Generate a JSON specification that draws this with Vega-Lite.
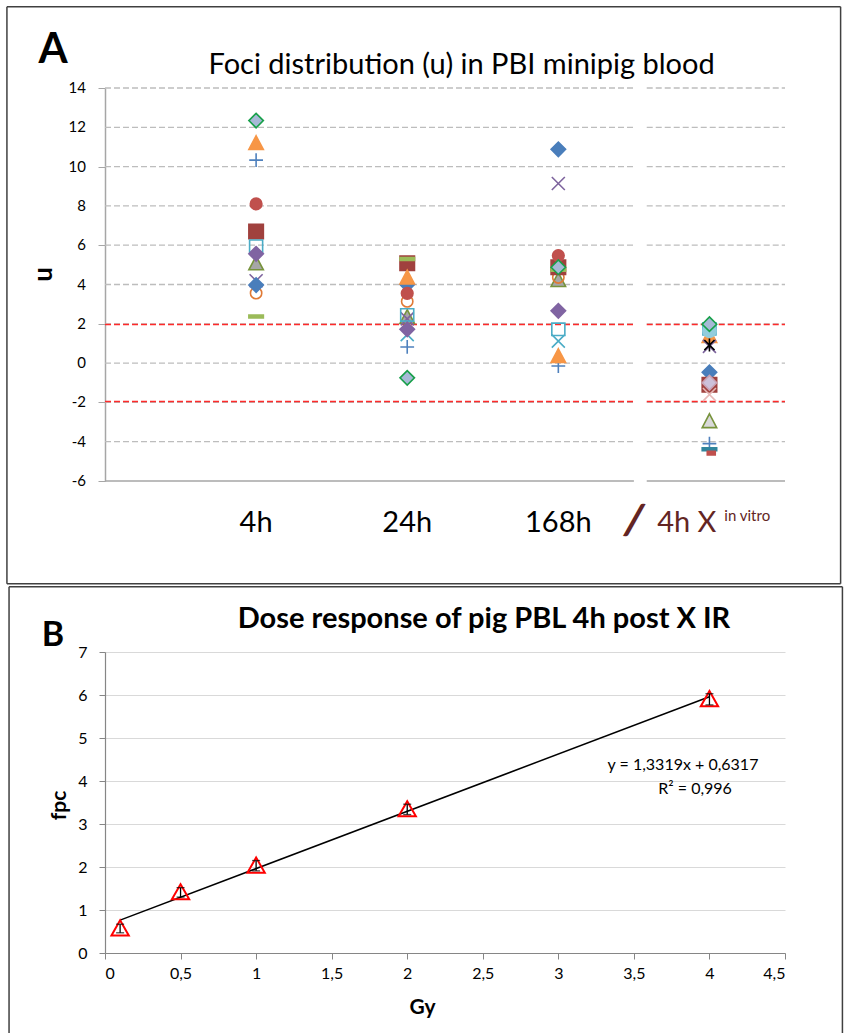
{
  "$schema": "https://vega.github.io/schema/vega-lite/v6.json",
  "padding": {"left": 6, "top": 5, "right": 0, "bottom": 0},
  "spacing": 0,
  "config": {
    "font": "Lato",
    "view": {"stroke": null},
    "axis": {"labelFont": "Lato", "titleFont": "Lato", "labelColor": "#000000", "titleColor": "#000000", "labelOverlap": false}
  },
  "datasets": {
    "one": [{"d": 1}],
    "ptsA": [
      {"t": 1, "u": 5.08, "s": "gt"}, {"t": 1, "u": 3.56, "s": "oc"}, {"t": 1, "u": 4.19, "s": "px"},
      {"t": 1, "u": 3.97, "s": "bd"}, {"t": 1, "u": 6.7, "s": "rs"}, {"t": 1, "u": 2.37, "s": "gd"},
      {"t": 1, "u": 5.95, "s": "cs"}, {"t": 1, "u": 5.56, "s": "pd"}, {"t": 1, "u": 10.33, "s": "bp"},
      {"t": 1, "u": 8.1, "s": "rc"}, {"t": 1, "u": 11.2, "s": "ot"}, {"t": 1, "u": 12.34, "s": "td"},
      {"t": 2, "u": 2.35, "s": "gt"}, {"t": 2, "u": 3.14, "s": "oc"}, {"t": 2, "u": 1.45, "s": "tx"},
      {"t": 2, "u": 2.25, "s": "px"}, {"t": 2, "u": 4.0, "s": "bd"}, {"t": 2, "u": 5.08, "s": "rs"},
      {"t": 2, "u": 5.3, "s": "gd"}, {"t": 2, "u": 2.45, "s": "cs"}, {"t": 2, "u": 1.72, "s": "pd"},
      {"t": 2, "u": 0.82, "s": "bp"}, {"t": 2, "u": 3.55, "s": "rc"}, {"t": 2, "u": 4.36, "s": "ot"},
      {"t": 2, "u": -0.75, "s": "td"},
      {"t": 3, "u": 4.23, "s": "gt"}, {"t": 3, "u": 4.36, "s": "oc"}, {"t": 3, "u": 1.12, "s": "tx"},
      {"t": 3, "u": 9.14, "s": "px"}, {"t": 3, "u": 10.88, "s": "bd"}, {"t": 3, "u": 4.88, "s": "rs"},
      {"t": 3, "u": 4.75, "s": "gd"}, {"t": 3, "u": 1.72, "s": "cs"}, {"t": 3, "u": 2.66, "s": "pd"},
      {"t": 3, "u": -0.15, "s": "bp"}, {"t": 3, "u": 5.47, "s": "rc"}, {"t": 3, "u": 0.36, "s": "ot"},
      {"t": 3, "u": 4.88, "s": "td"},
      {"t": 4, "u": 1.38, "s": "ot"}, {"t": 4, "u": 1.74, "s": "cs"}, {"t": 4, "u": 1.64, "s": "lc"},
      {"t": 4, "u": 1.98, "s": "td"}, {"t": 4, "u": 0.85, "s": "px"}, {"t": 4, "u": 0.92, "s": "ka"},
      {"t": 4, "u": -0.47, "s": "bd"}, {"t": 4, "u": -1.1, "s": "rs"}, {"t": 4, "u": -1.0, "s": "ld"},
      {"t": 4, "u": -1.6, "s": "pk"}, {"t": 4, "u": -2.95, "s": "lt"}, {"t": 4, "u": -4.1, "s": "bp"},
      {"t": 4, "u": -4.38, "s": "tdash"}, {"t": 4, "u": -4.56, "s": "rdash"}
    ],
    "gridA": [{"g": -4}, {"g": -2}, {"g": 0}, {"g": 2}, {"g": 4}, {"g": 6}, {"g": 8}, {"g": 10}, {"g": 12}, {"g": 14}],
    "tickA": [{"g": -6, "lab": "-6"}, {"g": -4, "lab": "-4"}, {"g": -2, "lab": "-2"}, {"g": 0, "lab": "0"}, {"g": 2, "lab": "2"}, {"g": 4, "lab": "4"},
              {"g": 6, "lab": "6"}, {"g": 8, "lab": "8"}, {"g": 10, "lab": "10"}, {"g": 12, "lab": "12"}, {"g": 14, "lab": "14"}],
    "redA": [{"g": 1.96}, {"g": -1.96}],
    "catA": [{"t": 1, "lab": "4h"}, {"t": 2, "lab": "24h"}, {"t": 3, "lab": "168h"}],
    "ptsB": [
      {"gy": 0.1, "fpc": 0.57, "lo": 0.47, "hi": 0.67},
      {"gy": 0.5, "fpc": 1.41, "lo": 1.3, "hi": 1.52},
      {"gy": 1, "fpc": 2.03, "lo": 1.91, "hi": 2.15},
      {"gy": 2, "fpc": 3.34, "lo": 3.22, "hi": 3.46},
      {"gy": 4, "fpc": 5.9, "lo": 5.77, "hi": 6.03}
    ],
    "fitB": [{"gy": 0.1, "fpc": 0.7649}, {"gy": 4, "fpc": 5.9593}]
  },
  "vconcat": [
    {
      "width": 680,
      "height": 393,
      "data": {"name": "one"},
      "layer": [
        {"mark": {"type": "rule", "color": "#404040", "strokeWidth": 1.5},
         "encoding": {"x": {"datum": -0.649, "type": "quantitative", "axis": null}, "x2": {"datum": 4.868}, "y": {"datum": 18.14, "type": "quantitative"}}},
        {"mark": {"type": "rule", "color": "#404040", "strokeWidth": 1.5},
         "encoding": {"x": {"datum": -0.649, "type": "quantitative", "axis": null}, "x2": {"datum": 4.868}, "y": {"datum": -11.23, "type": "quantitative"}}},
        {"mark": {"type": "rule", "color": "#404040", "strokeWidth": 1.5},
         "encoding": {"x": {"datum": -0.649, "type": "quantitative", "axis": null}, "y": {"datum": 18.14, "type": "quantitative"}, "y2": {"datum": -11.23}}},
        {"mark": {"type": "rule", "color": "#404040", "strokeWidth": 1.5},
         "encoding": {"x": {"datum": 4.868, "type": "quantitative", "axis": null}, "y": {"datum": 18.14, "type": "quantitative"}, "y2": {"datum": -11.23}}},
        {"data": {"name": "gridA"}, "mark": {"type": "rule", "color": "#BDBDBD", "strokeWidth": 1.3, "strokeDash": [6, 3]},
         "encoding": {"x": {"datum": 0, "type": "quantitative", "axis": null}, "x2": {"datum": 3.5}, "y": {"field": "g", "type": "quantitative"}}},
        {"data": {"name": "gridA"}, "mark": {"type": "rule", "color": "#BDBDBD", "strokeWidth": 1.3, "strokeDash": [6, 3]},
         "encoding": {"x": {"datum": 3.585, "type": "quantitative", "axis": null}, "x2": {"datum": 4.5}, "y": {"field": "g", "type": "quantitative"}}},
        {"data": {"name": "redA"}, "mark": {"type": "rule", "color": "#FF2A2A", "strokeWidth": 1.5, "strokeDash": [6, 3]},
         "encoding": {"x": {"datum": 0, "type": "quantitative", "axis": null}, "x2": {"datum": 3.5}, "y": {"field": "g", "type": "quantitative"}}},
        {"data": {"name": "redA"}, "mark": {"type": "rule", "color": "#FF2A2A", "strokeWidth": 1.5, "strokeDash": [6, 3]},
         "encoding": {"x": {"datum": 3.585, "type": "quantitative", "axis": null}, "x2": {"datum": 4.5}, "y": {"field": "g", "type": "quantitative"}}},
        {"mark": {"type": "rule", "color": "#A6A6A6", "strokeWidth": 1.5},
         "encoding": {"x": {"datum": 0, "type": "quantitative", "axis": null}, "x2": {"datum": 3.5}, "y": {"datum": -6, "type": "quantitative"}}},
        {"mark": {"type": "rule", "color": "#A6A6A6", "strokeWidth": 1.5},
         "encoding": {"x": {"datum": 3.585, "type": "quantitative", "axis": null}, "x2": {"datum": 4.5}, "y": {"datum": -6, "type": "quantitative"}}},
        {"data": {"name": "tickA"}, "mark": {"type": "text", "fontSize": 15, "font": "Lato", "color": "#000000", "align": "right", "baseline": "middle"},
         "encoding": {"x": {"datum": -0.1258, "type": "quantitative", "axis": null}, "y": {"field": "g", "type": "quantitative"}, "text": {"field": "lab"}}},
        {
          "data": {"name": "ptsA"},
          "mark": {"type": "point", "size": 210, "strokeWidth": 1.6, "opacity": 1},
          "encoding": {
            "x": {"field": "t", "type": "quantitative", "scale": {"domain": [0, 4.5], "nice": false, "zero": false}, "axis": null},
            "y": {"field": "u", "type": "quantitative", "scale": {"domain": [-6, 14], "nice": false, "zero": false},
                  "axis": {"values": [-6, -4, -2, 0, 2, 4, 6, 8, 10, 12, 14], "labels": false, "grid": false,
                           "tickSize": 7, "tickColor": "#A6A6A6", "domainColor": "#A6A6A6", "domainWidth": 1.5,
                           "title": "u", "titleFontSize": 26, "titleFontWeight": "bold", "titleAngle": -90, "titleX": -62, "titleY": 186,
                           "titleAlign": "center", "titleBaseline": "middle"}},
            "shape": {"field": "s", "type": "nominal", "legend": null,
              "scale": {"domain": ["gt","oc","tx","px","bd","rs","gd","cs","pd","bp","rc","ot","td","lc","ka","pk","ld","lt","tdash","rdash"],
                        "range": ["M0,-1L1,0.9L-1,0.9Z",
                                  "M0.78,0A0.78,0.78,0,1,1,-0.78,0A0.78,0.78,0,1,1,0.78,0Z",
                                  "M-0.9,-0.9L0.9,0.9M-0.9,0.9L0.9,-0.9",
                                  "M-0.9,-0.9L0.9,0.9M-0.9,0.9L0.9,-0.9",
                                  "diamond",
                                  "square",
                                  "M-1,-0.2H1V0.2H-1Z",
                                  "M-0.9,-0.85H0.9V0.85H-0.9Z",
                                  "diamond",
                                  "M-0.95,0H0.95M0,-0.95V0.95",
                                  "M0.8,0A0.8,0.8,0,1,1,-0.8,0A0.8,0.8,0,1,1,0.8,0Z",
                                  "M0,-1L1,0.9L-1,0.9Z",
                                  "diamond",
                                  "M0.9,0A0.9,0.9,0,1,1,-0.9,0A0.9,0.9,0,1,1,0.9,0Z",
                                  "M-0.7,-0.7L0.7,0.7M-0.7,0.7L0.7,-0.7M0,-0.9V0.9",
                                  "M-0.9,-0.9L0.9,0.9M-0.9,0.9L0.9,-0.9",
                                  "diamond",
                                  "M0,-1L1,0.9L-1,0.9Z",
                                  "M-1,-0.2H1V0.2H-1Z",
                                  "M-0.3,-0.2H0.8V0.3H-0.3Z"]}},
            "fill": {"field": "s", "type": "nominal", "legend": null,
              "scale": {"domain": ["gt","oc","tx","px","bd","rs","gd","cs","pd","bp","rc","ot","td","lc","ka","pk","ld","lt","tdash","rdash"],
                        "range": ["#A6A6A6","transparent","transparent","transparent","#4A7EBB","#A0413E","#9BBB59","transparent","#8064A2","transparent","#C0504D","#F79646","#A7B9D6","#93CDDD","transparent","transparent","#CCC1DA","#D9D9D9","#31859C","#C0504D"]}},
            "stroke": {"field": "s", "type": "nominal", "legend": null,
              "scale": {"domain": ["gt","oc","tx","px","bd","rs","gd","cs","pd","bp","rc","ot","td","lc","ka","pk","ld","lt","tdash","rdash"],
                        "range": ["#77933C","#E07A36","#4BACC6","#7E649E","#4A7EBB","#A0413E","#9BBB59","#4BACC6","#8064A2","#4F81BD","#C0504D","#F79646","#18A04A","#93CDDD","#000000","#E6B9B8","#C9A3B5","#77933C","#31859C","#C0504D"]}}
          }
        },
        {"data": {"name": "catA"}, "mark": {"type": "text", "fontSize": 29, "font": "Lato", "color": "#000000", "baseline": "alphabetic"},
         "encoding": {"x": {"field": "t", "type": "quantitative", "axis": null}, "y": {"datum": -8.6, "type": "quantitative"}, "text": {"field": "lab"}}},
        {"mark": {"type": "text", "fontSize": 44, "fontWeight": "bold", "font": "Lato", "color": "#632523", "baseline": "middle", "angle": 8},
         "encoding": {"x": {"datum": 3.5, "type": "quantitative", "axis": null}, "y": {"datum": -8.1, "type": "quantitative"}, "text": {"value": "/"}}},
        {"mark": {"type": "text", "fontSize": 29, "font": "Lato", "color": "#632523", "baseline": "alphabetic"},
         "encoding": {"x": {"datum": 3.85, "type": "quantitative", "axis": null}, "y": {"datum": -8.6, "type": "quantitative"}, "text": {"value": "4h X"}}},
        {"mark": {"type": "text", "fontSize": 15, "font": "Lato", "color": "#632523", "baseline": "alphabetic"},
         "encoding": {"x": {"datum": 4.25, "type": "quantitative", "axis": null}, "y": {"datum": -8.05, "type": "quantitative"}, "text": {"value": "in vitro"}}},
        {"mark": {"type": "text", "fontSize": 29, "font": "Lato", "color": "#000000", "baseline": "alphabetic"},
         "encoding": {"x": {"datum": 2.36, "type": "quantitative", "axis": null}, "y": {"datum": 14.72, "type": "quantitative"}, "text": {"value": "Foci distribution (u) in PBI minipig blood"}}},
        {"mark": {"type": "text", "fontSize": 42, "fontWeight": "bold", "font": "Lato", "color": "#000000", "baseline": "alphabetic"},
         "encoding": {"x": {"datum": -0.344, "type": "quantitative", "axis": null}, "y": {"datum": 15.29, "type": "quantitative"}, "text": {"value": "A"}}}
      ]
    },
    {
      "width": 680,
      "height": 301,
      "data": {"name": "one"},
      "layer": [
        {"mark": {"type": "rule", "color": "#404040", "strokeWidth": 1.5},
         "encoding": {"x": {"datum": -0.635, "type": "quantitative"}, "x2": {"datum": 4.88}, "y": {"datum": 8.52, "type": "quantitative"}}},
        {"mark": {"type": "rule", "color": "#404040", "strokeWidth": 1.5},
         "encoding": {"x": {"datum": -0.635, "type": "quantitative"}, "y": {"datum": 8.52, "type": "quantitative"}, "y2": {"datum": -1.9}}},
        {"mark": {"type": "rule", "color": "#404040", "strokeWidth": 1.5},
         "encoding": {"x": {"datum": 4.88, "type": "quantitative"}, "y": {"datum": 8.52, "type": "quantitative"}, "y2": {"datum": -1.9}}},
        {"data": {"name": "fitB"}, "mark": {"type": "line", "color": "#000000", "strokeWidth": 1.5},
         "encoding": {
           "x": {"field": "gy", "type": "quantitative", "scale": {"domain": [0, 4.5], "nice": false, "zero": false},
                 "axis": {"values": [0, 0.5, 1, 1.5, 2, 2.5, 3, 3.5, 4, 4.5], "labelExpr": "replace(format(datum.value, '~g'), '.', ',')",
                          "labelFontSize": 16, "labelPadding": 6, "tickSize": 6, "tickColor": "#868686", "domainColor": "#868686", "domainWidth": 1.2, "grid": false,
                          "title": "Gy", "titleFontSize": 21, "titleFontWeight": "bold", "titleX": 317, "titleY": 54, "titleAlign": "center", "titleBaseline": "middle"}},
           "y": {"field": "fpc", "type": "quantitative", "scale": {"domain": [0, 7], "nice": false, "zero": false},
                 "axis": {"values": [0, 1, 2, 3, 4, 5, 6, 7], "labelFontSize": 16, "labelPadding": 12, "tickSize": 6, "tickColor": "#868686", "domainColor": "#868686", "domainWidth": 1.2,
                          "grid": true, "gridColor": "#D9D9D9", "gridWidth": 1.2,
                          "title": "fpc", "titleFontSize": 21, "titleFontWeight": "bold", "titleAngle": -90, "titleX": -46, "titleY": 153, "titleAlign": "center", "titleBaseline": "middle"}}
         }},
        {"data": {"name": "ptsB"}, "mark": {"type": "point", "shape": "M0,-0.95L1,0.8L-1,0.8Z", "size": 300, "strokeWidth": 2, "color": "#FF0000", "filled": false, "opacity": 1},
         "encoding": {"x": {"field": "gy", "type": "quantitative"}, "y": {"field": "fpc", "type": "quantitative"}}},
        {"data": {"name": "ptsB"}, "mark": {"type": "rule", "color": "#000000", "strokeWidth": 1.3},
         "encoding": {"x": {"field": "gy", "type": "quantitative"}, "y": {"field": "lo", "type": "quantitative"}, "y2": {"field": "hi"}}},
        {"data": {"name": "ptsB"}, "mark": {"type": "tick", "orient": "horizontal", "color": "#000000", "size": 8, "thickness": 1.3},
         "encoding": {"x": {"field": "gy", "type": "quantitative"}, "y": {"field": "hi", "type": "quantitative"}}},
        {"data": {"name": "ptsB"}, "mark": {"type": "tick", "orient": "horizontal", "color": "#000000", "size": 8, "thickness": 1.3},
         "encoding": {"x": {"field": "gy", "type": "quantitative"}, "y": {"field": "lo", "type": "quantitative"}}},
        {"mark": {"type": "text", "fontSize": 16, "font": "Lato", "color": "#000000", "baseline": "alphabetic"},
         "encoding": {"x": {"datum": 3.825, "type": "quantitative"}, "y": {"datum": 4.26, "type": "quantitative"}, "text": {"value": "y = 1,3319x + 0,6317"}}},
        {"mark": {"type": "text", "fontSize": 16, "font": "Lato", "color": "#000000", "baseline": "alphabetic"},
         "encoding": {"x": {"datum": 3.905, "type": "quantitative"}, "y": {"datum": 3.7, "type": "quantitative"}, "text": {"value": "R² = 0,996"}}},
        {"mark": {"type": "text", "fontSize": 29, "fontWeight": "bold", "font": "Lato", "color": "#000000", "baseline": "alphabetic"},
         "encoding": {"x": {"datum": 2.508, "type": "quantitative"}, "y": {"datum": 7.55, "type": "quantitative"}, "text": {"value": "Dose response of pig PBL 4h post X IR"}}},
        {"mark": {"type": "text", "fontSize": 34, "fontWeight": "bold", "font": "Lato", "color": "#000000", "baseline": "alphabetic"},
         "encoding": {"x": {"datum": -0.344, "type": "quantitative"}, "y": {"datum": 7.15, "type": "quantitative"}, "text": {"value": "B"}}}
      ]
    }
  ]
}
